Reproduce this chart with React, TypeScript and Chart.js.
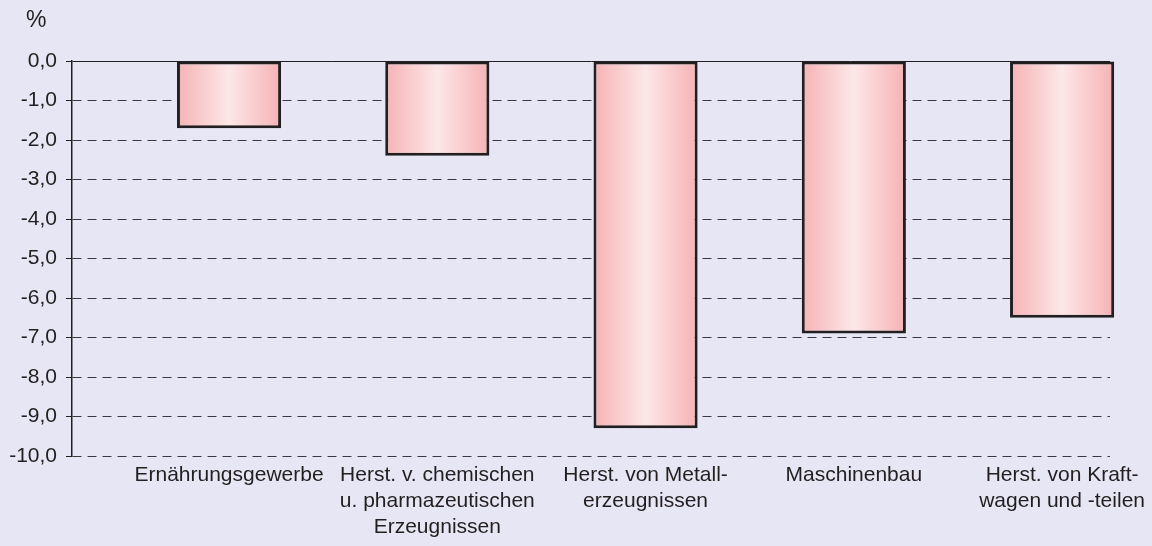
import React, { useEffect, useRef } from "react";
import { Chart, registerables } from "chart.js";

Chart.register(...registerables);

const categories: string[][] = [
  ["Ernährungsgewerbe"],
  ["Herst. v. chemischen", "u. pharmazeutischen", "Erzeugnissen"],
  ["Herst. von Metall-", "erzeugnissen"],
  ["Maschinenbau"],
  ["Herst. von Kraft-", "wagen und -teilen"],
];
const values: number[] = [-1.7, -2.4, -9.3, -6.9, -6.5];
const yMin = -10;
const yMax = 0;
const yStep = 1;
const unitLabel = "%";

const FONT = "'Liberation Sans', Arial, sans-serif";
const TEXT = "#231f20";

export default function App() {
  const ref = useRef<HTMLCanvasElement | null>(null);
  useEffect(() => {
    if (!ref.current) return;
    const unitPlugin = {
      id: "unitLabel",
      afterDraw(chart: any) {
        const c = chart.ctx;
        c.save();
        c.fillStyle = TEXT;
        c.font = `23px ${FONT}`;
        c.textAlign = "left";
        c.textBaseline = "middle";
        c.fillText(unitLabel, chart.chartArea.left - 46, chart.chartArea.top - 40);
        c.restore();
      },
    };
    const chart = new Chart(ref.current, {
      type: "bar",
      data: {
        datasets: [
          {
            data: values.map((v, i) => ({ x: i, y: v })),
            backgroundColor: (ctx: any) => {
              const ch = ctx.chart;
              const xs = ch.scales.x;
              if (!xs || ctx.dataIndex === undefined) return "#f8c8c9";
              const cx = xs.getPixelForValue(ctx.dataIndex);
              const half = (xs.getPixelForValue(1) - xs.getPixelForValue(0)) * 0.25;
              if (!isFinite(cx) || !isFinite(half)) return "#f8c8c9";
              const g = ch.ctx.createLinearGradient(cx - half, 0, cx + half, 0);
              g.addColorStop(0, "#f5b3b5");
              g.addColorStop(0.5, "#fde7e7");
              g.addColorStop(1, "#f5b2b4");
              return g;
            },
            borderColor: "#231f20",
            borderWidth: 3,
            borderSkipped: false,
            categoryPercentage: 1,
            barPercentage: 0.5,
            clip: false,
          } as any,
        ],
      },
      options: {
        animation: false,
        responsive: false,
        maintainAspectRatio: false,
        layout: { padding: { left: 8, right: 42, top: 61, bottom: 2 } },
        plugins: {
          legend: { display: false },
          tooltip: { enabled: false },
          title: { display: false },
        },
        scales: {
          x: {
            type: "linear",
            offset: false,
            min: -0.754,
            max: 4.23,
            grid: { display: false, offset: false },
            border: { display: false },
            afterBuildTicks: (scale: any) => {
              scale.ticks = categories.map((_, i) => ({ value: i }));
            },
            afterFit: (s: any) => {
              s.height = 88;
            },
            ticks: {
              autoSkip: false,
              maxRotation: 0,
              minRotation: 0,
              padding: -2,
              color: TEXT,
              font: { family: FONT, size: 21, lineHeight: 1.24 },
              callback: (v: any) => categories[v as number] ?? "",
            },
          },
          y: {
            min: yMin,
            max: yMax,
            afterFit: (s: any) => {
              s.width = 64;
            },
            ticks: {
              stepSize: yStep,
              padding: 9,
              color: TEXT,
              font: { family: FONT, size: 21 },
              callback: (v: any) => Number(v).toFixed(1).replace(".", ","),
            },
            grid: {
              color: (ctx: any) => (ctx.tick && ctx.tick.value === 0 ? "#231f20" : "#3a3a44"),
              lineWidth: 1,
              tickLength: 6,
              tickColor: "#231f20",
            },
            border: {
              display: true,
              color: "#231f20",
              width: 1.5,
              dash: (ctx: any) => (ctx.tick && ctx.tick.value === 0 ? [] : [9, 6]),
            } as any,
          },
        },
      } as any,
      plugins: [unitPlugin],
    });
    return () => chart.destroy();
  }, []);
  return (
    <div
      style={{
        position: "fixed",
        left: 0,
        top: 0,
        width: 1152,
        height: 546,
        background: "#e6e6f4",
      }}
    >
      <canvas ref={ref} width={1152} height={546} style={{ display: "block" }} />
    </div>
  );
}
